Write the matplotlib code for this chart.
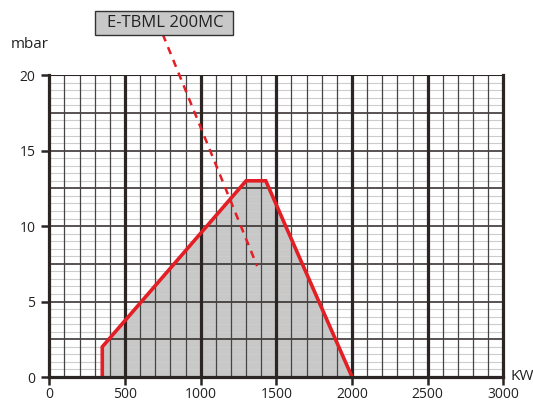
import numpy as np
import matplotlib.pyplot as plt
from matplotlib.patches import Rectangle

plt.rcParams['font.family'] = ['Open Sans', 'DejaVu Sans']

# 工作区域边界 (KW, mbar)
area_kw = [350, 350, 1300, 1430, 2000]
area_mbar = [0, 2, 13, 13, 0]
# 型号标注线
label_text = 'E-TBML 200MC'
pointer_kw = [750, 1373]
pointer_mbar = [22.7, 7.35]

x_ticks = [0, 500, 1000, 1500, 2000, 2500, 3000]
y_ticks = [0, 5, 10, 15, 20]

red = '#e31e24'
dark = '#2b2523'

fig = plt.figure(figsize=(5.33, 4.03), dpi=100)
ax = fig.add_axes([0.0925, 0.0645, 0.852, 0.749])
ax.set_xlim(0, 3000)
ax.set_ylim(0, 20)

# 填充区域
ax.fill(area_kw, area_mbar, color='#c8c8c8', zorder=1, lw=0)

# 网格
for y in np.arange(0.5, 20, 0.5):
    if y % 2.5 == 0:
        ax.axhline(y, color=dark, lw=1.1, zorder=3)
    else:
        ax.axhline(y, color='#cccccc', lw=0.8, zorder=2)
for x in np.arange(100, 3000, 100):
    if x % 500 == 0:
        ax.axvline(x, color=dark, lw=2.3, zorder=4)
    else:
        ax.axvline(x, color='#444444', lw=0.9, zorder=3)
ax.axhline(20, color=dark, lw=1.5, zorder=4)

# 红线
ax.plot(area_kw, area_mbar, color=red, lw=2.6, zorder=5, solid_joinstyle='miter')
ax.plot(pointer_kw, pointer_mbar, color=red, lw=1.8, ls=(0, (3, 2.5)), zorder=6,
        clip_on=False)

for side in ['left', 'bottom', 'right']:
    ax.spines[side].set_linewidth(2.3)
    ax.spines[side].set_color(dark)
    ax.spines[side].set_zorder(7)
ax.spines['top'].set_visible(False)

ax.set_xticks(x_ticks)
ax.set_yticks(y_ticks)
ax.tick_params(direction='out', length=6, width=1.8, color=dark, labelsize=10,
               labelcolor='#222222', pad=4)
ax.tick_params(axis='x', pad=1.5)

fig.text(30 / 533, 1 - 45 / 403, 'mbar', fontsize=11, ha='center', va='center',
         color='#222222')
fig.text(522 / 533, 1 - 377 / 403, 'KW', fontsize=11, ha='center', va='center',
         color='#222222')

fig.patches.append(Rectangle((95 / 533, 1 - 35 / 403), 138 / 533, 24 / 403,
                             transform=fig.transFigure, facecolor='#c8c8c8',
                             edgecolor='#333333', lw=1.0))
fig.text(165 / 533, 1 - 23 / 403, label_text, fontsize=12, ha='center',
         va='center', color='#222222')

fig.savefig('out.png', dpi=100)
